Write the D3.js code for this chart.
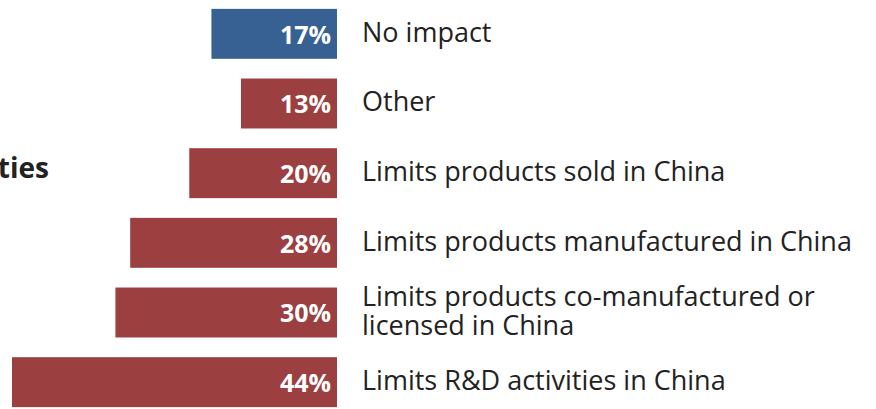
<!DOCTYPE html>
<html>
<head>
<meta charset="utf-8">
<script src="https://cdn.jsdelivr.net/npm/d3@7"></script>
<style>
  body { margin: 0; background: #fff; }
  svg { display: block; font-family: "Open Sans", sans-serif; }
</style>
</head>
<body>
<div id="chart"></div>
<script>
// data
var categories = [
  "No impact",
  "Other",
  "Limits products sold in China",
  "Limits products manufactured in China",
  "Limits products co-manufactured or|licensed in China",
  "Limits R&D activities in China"
];
var values = [17, 13, 20, 28, 30, 44];
var barColors = ["#376193", "#9b3f40", "#9b3f40", "#9b3f40", "#9b3f40", "#9b3f40"];

var width = 876, height = 409;
var barRight = 337;

var svg = d3.select("#chart")
  .append("svg")
  .attr("width", width)
  .attr("height", height);

// 44% -> 325px
var x = d3.scaleLinear()
  .domain([0, 44])
  .range([0, 325]);

var y = d3.scaleBand()
  .domain(categories)
  .range([-1, 417])
  .paddingInner(0.283)
  .paddingOuter(0.1415);

// cut-off title at the left edge
svg.append("text")
  .attr("x", 49)
  .attr("y", 178)
  .attr("text-anchor", "end")
  .attr("fill", "#222")
  .style("font-size", "28px")
  .style("font-weight", 700)
  .text("activities");

var row = svg.selectAll(".row")
  .data(categories)
  .enter()
  .append("g")
  .attr("class", "row")
  .attr("transform", function(d) { return "translate(0," + y(d) + ")"; });

row.append("rect")
  .attr("x", function(d, i) { return barRight - x(values[i]); })
  .attr("y", 0)
  .attr("width", function(d, i) { return x(values[i]); })
  .attr("height", y.bandwidth())
  .attr("fill", function(d, i) { return barColors[i]; });

row.append("text")
  .attr("x", barRight - 6)
  .attr("y", y.bandwidth() / 2 + 10)
  .attr("text-anchor", "end")
  .attr("fill", "#fff")
  .style("font-size", "25px")
  .style("font-weight", 700)
  .text(function(d, i) { return values[i] + "%"; });

var labels = row.append("text")
  .attr("x", 362)
  .attr("fill", "#222")
  .style("font-size", "27px");

labels.each(function(d) {
  var lines = d.split("|");
  var t = d3.select(this);
  var first = y.bandwidth() / 2 + 8 - (lines.length - 1) * 15;
  lines.forEach(function(l, j) {
    t.append("tspan")
      .attr("x", 362)
      .attr("y", first + j * 30)
      .text(l);
  });
});
</script>
</body>
</html>
